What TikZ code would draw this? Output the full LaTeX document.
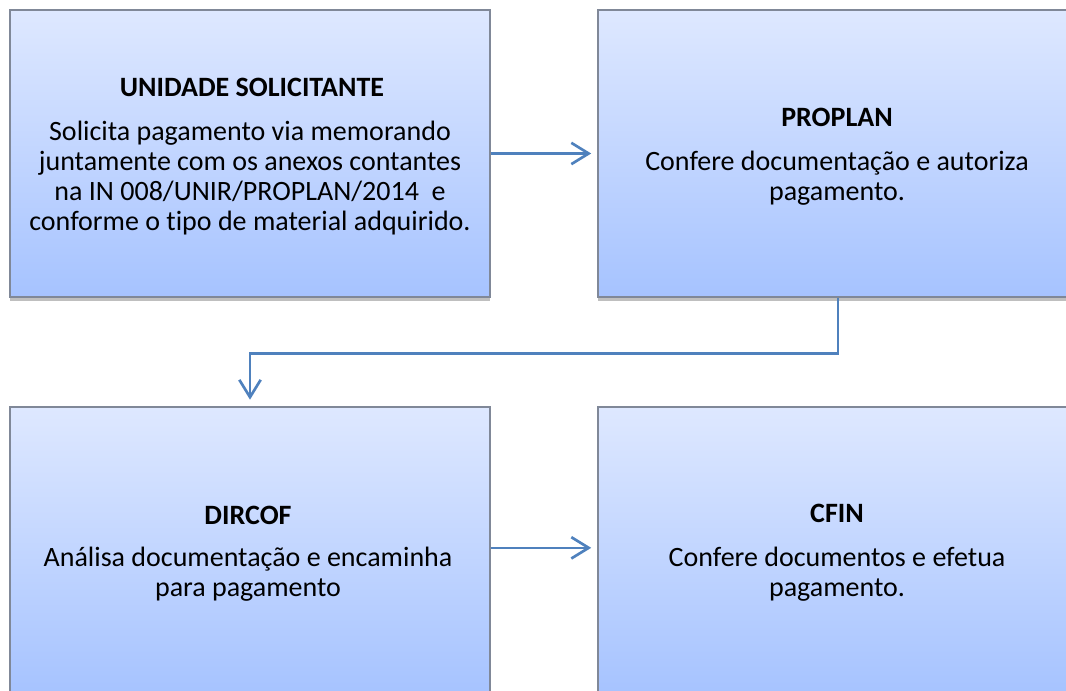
\documentclass[tikz,border=0pt]{standalone}
\usepackage{fontspec}
\setmainfont{Carlito}[Ligatures=NoCommon]
\usetikzlibrary{arrows.meta,shadows}
\definecolor{boxtop}{RGB}{222,232,255}
\definecolor{boxbot}{RGB}{166,195,255}
\definecolor{boxline}{RGB}{128,136,152}
\definecolor{arrowblue}{RGB}{79,129,189}
\tikzset{
  procbox/.style={rectangle, draw=boxline, line width=1.2pt,
    top color=boxtop, bottom color=boxbot,
    minimum width=360pt, minimum height=215pt, inner sep=0pt,
    drop shadow={shadow xshift=0pt, shadow yshift=-3pt, opacity=0.25, fill=black}},
  ttl/.style={anchor=base, inner sep=0pt, font=\fontsize{21pt}{22.5pt}\selectfont\bfseries},
  txt/.style={anchor=base, inner sep=0pt, font=\fontsize{21pt}{22.5pt}\selectfont},
  flow/.style={draw=arrowblue, line width=2pt,
    -{Straight Barb[length=13pt,width=16pt,line width=2pt]}}
}
\begin{document}
\begin{tikzpicture}[x=0.75pt,y=-0.75pt]
\useasboundingbox (0,0) rectangle (1066,691);
\clip (0,0) rectangle (1066,691);
\node[procbox] (tl) at (250,153.5) {};
\node[procbox] (tr) at (838,153.5) {};
\node[procbox] (bl) at (250,550.5) {};
\node[procbox] (br) at (838,550.5) {};
% texts top-left
\node[ttl] (tlh) at (252,97) {UNIDADE SOLICITANTE};
\node[txt] (tl1) at (250,141) {Solicita pagamento via memorando};
\node[txt] (tl2) at (250,171) {juntamente com os anexos contantes};
\node[txt] (tl3) at (250,201) {na IN 008/UNIR/PROPLAN/2014\ \ e};
\node[txt] (tl4) at (250,231) {conforme o tipo de material adquirido.};
% top-right
\node[ttl] (trh) at (837,127) {PROPLAN};
\node[txt] (tr1) at (837,171) {Confere documentação e autoriza};
\node[txt] (tr2) at (837,201) {pagamento.};
% bottom-left
\node[ttl] (blh) at (248,524) {DIRCOF};
\node[txt] (bl1) at (248,566) {Análisa documentação e encaminha};
\node[txt] (bl2) at (248,596) {para pagamento};
% bottom-right
\node[ttl] (brh) at (837,522) {CFIN};
\node[txt] (br1) at (837,566) {Confere documentos e efetua};
\node[txt] (br2) at (837,596) {pagamento.};
% connectors
\draw[flow, shorten >=4.5pt] (tl.east) -- (tr.west);
\draw[flow, shorten >=5pt] (tr.south) -- ++(0,56) -| (bl.north);
\draw[flow, shorten >=4.5pt] ([yshift=2pt]bl.east) -- ([yshift=2pt]br.west);
\end{tikzpicture}
\end{document}
